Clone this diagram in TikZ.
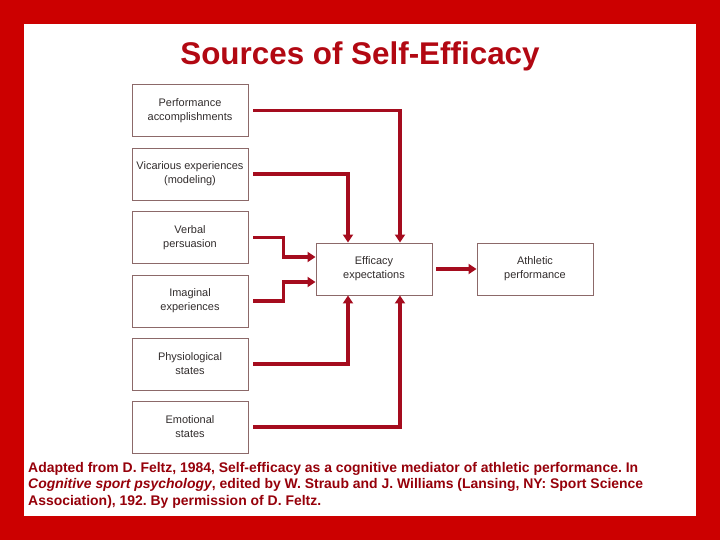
\documentclass[tikz,border=0pt]{standalone}
\usepackage{fontspec}
\setmainfont{Liberation Sans}
\usetikzlibrary{arrows.meta}
\definecolor{bgred}{RGB}{204,0,0}
\definecolor{titlered}{RGB}{178,8,18}
\definecolor{notered}{RGB}{150,0,10}
\definecolor{arrred}{RGB}{165,12,30}
\definecolor{boxline}{RGB}{140,105,105}
\definecolor{boxtext}{RGB}{50,45,45}
\tikzset{
  srcbox/.style={draw=boxline, line width=0.9bp, minimum width=116bp, minimum height=52bp,
    inner sep=0pt, align=center, text=boxtext, font=\fontsize{11}{14}\selectfont},
  arr/.style={draw=arrred, line width=3.8bp,
    -{Triangle[width=10bp,length=8bp]}, shorten <=5bp},
}
\begin{document}
\begin{tikzpicture}[x=1bp,y=-1bp]
\useasboundingbox (0,0) rectangle (720,540);
\fill[bgred] (0,0) rectangle (720,540);
\fill[white] (24,24) rectangle (696,516);
\node[text=titlered, font=\bfseries\fontsize{31.5}{36}\selectfont, anchor=base] (title) at (360,65) {Sources of Self-Efficacy};

\node[srcbox] (perf) at (190,110.5) {Performance\\accomplishments};
\node[srcbox] (vic)  at (190,174)   {Vicarious experiences\\(modeling)};
\node[srcbox] (verb) at (190,237.5) {Verbal\\persuasion};
\node[srcbox] (imag) at (190,301)   {Imaginal\\experiences};
\node[srcbox] (phys) at (190,364)   {Physiological\\states};
\node[srcbox] (emot) at (190,427)   {Emotional\\states};
\node[srcbox] (eff)  at (374,269)   {Efficacy\\expectations};
\node[srcbox] (ath)  at (535,269)   {Athletic\\performance};

\draw[arr] (perf.east) -| ([xshift=26bp]eff.north);
\draw[arr] (vic.east)  -| ([xshift=-26bp]eff.north);
\draw[arr] (verb.east) -- ++(35,0) |- ([yshift=12bp]eff.west);
\draw[arr] (imag.east) -- ++(35,0) |- ([yshift=-13bp]eff.west);
\draw[arr] (phys.east) -| ([xshift=-26bp]eff.south);
\draw[arr] (emot.east) -| ([xshift=26bp]eff.south);
\draw[arr, shorten <=4bp] (eff.east) -- (ath.west);

\node[anchor=north west, align=left, text=notered, inner sep=0pt,
  font=\frenchspacing\bfseries\fontsize{14}{16.5}\selectfont] (note) at (28,462)
  {Adapted from D. Feltz, 1984, Self-efficacy as a cognitive mediator of athletic performance. In\\
   \textit{Cognitive sport psychology}, edited by W. Straub and J. Williams (Lansing, NY: Sport Science\\
   Association), 192. By permission of D. Feltz.};
\end{tikzpicture}
\end{document}
